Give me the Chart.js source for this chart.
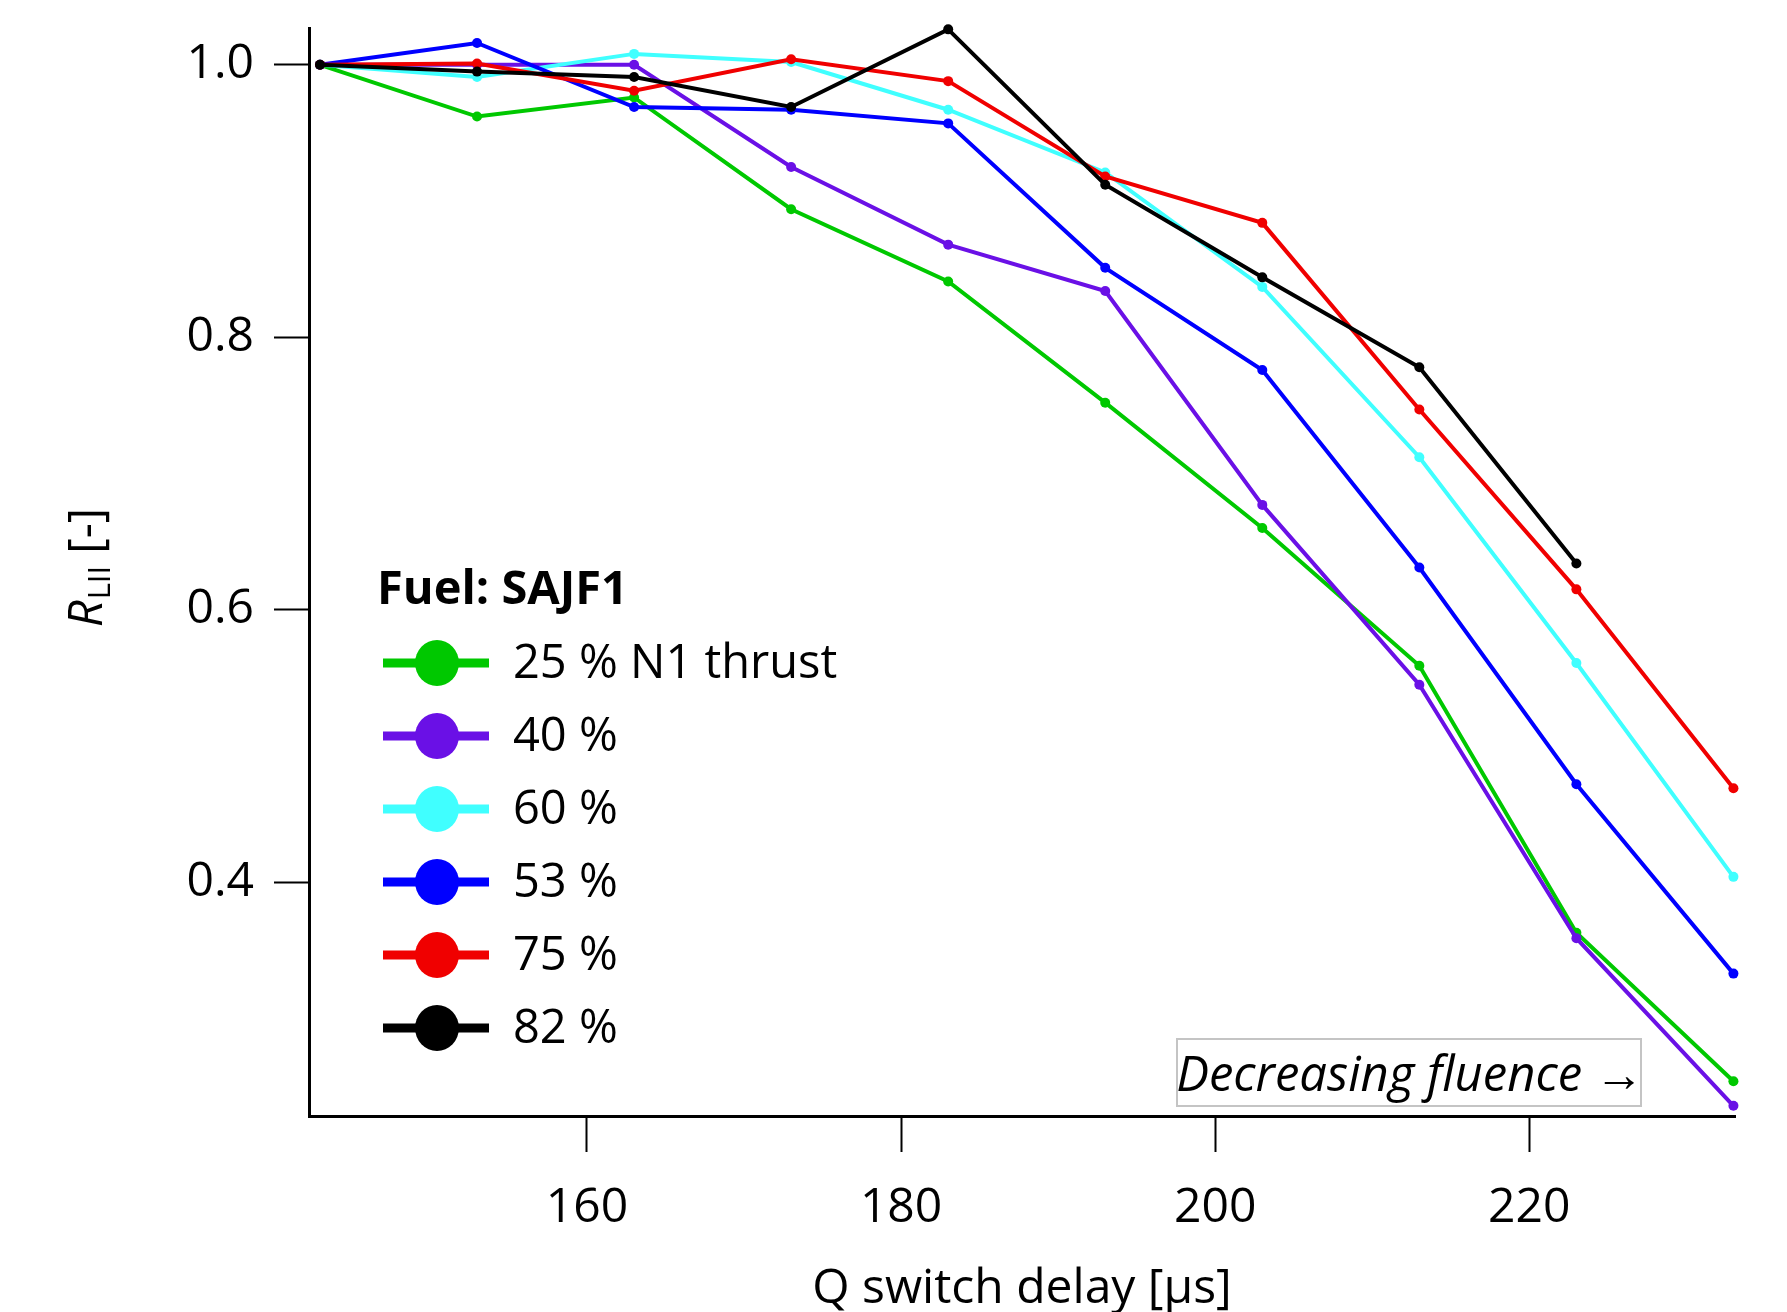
<!DOCTYPE html>
<html>
<head>
<meta charset="utf-8">
<script src="https://cdn.jsdelivr.net/npm/chart.js@4.4.1/dist/chart.umd.min.js"></script>
<style>
  html, body { margin: 0; padding: 0; background: #fff; }
</style>
</head>
<body>
<canvas id="chart" width="1787" height="1312"></canvas>
<script>
// Q switch delay (µs)
const delays = [143, 153, 163, 173, 183, 193, 203, 213, 223, 233];

// R_LII per engine thrust setting
const thrust25 = [1.0, 0.962, 0.976, 0.894, 0.841, 0.752, 0.660, 0.559, 0.363, 0.254];
const thrust40 = [1.0, 1.0, 1.0, 0.925, 0.868, 0.834, 0.677, 0.545, 0.359, 0.236];
const thrust60 = [1.0, 0.991, 1.008, 1.002, 0.967, 0.921, 0.837, 0.712, 0.561, 0.404];
const thrust53 = [1.0, 1.016, 0.969, 0.967, 0.957, 0.851, 0.776, 0.631, 0.472, 0.333];
const thrust75 = [1.0, 1.001, 0.981, 1.004, 0.988, 0.918, 0.884, 0.747, 0.615, 0.469];
const thrust82 = [1.0, 0.995, 0.991, 0.969, 1.026, 0.912, 0.844, 0.778, 0.634, null];

const seriesLabels = ["25 % N1 thrust", "40 %", "60 %", "53 %", "75 %", "82 %"];
const seriesColors = ["#00c800", "#6a10e6", "#40ffff", "#0000ff", "#f00000", "#000000"];
const seriesValues = [thrust25, thrust40, thrust60, thrust53, thrust75, thrust82];
const drawOrder = [5, 4, 3, 2, 1, 0];

const xTicks = [160, 180, 200, 220];
const yTicks = [0.4, 0.6, 0.8, 1.0];

const FONT = "'Open Sans', 'Noto Sans', sans-serif";

function toPoints(values) {
  return delays.map((d, i) => ({ x: d, y: values[i] }));
}

const datasets = seriesValues.map((vals, i) => ({
  label: seriesLabels[i],
  data: toPoints(vals),
  borderColor: seriesColors[i],
  backgroundColor: seriesColors[i],
  borderWidth: 4,
  pointRadius: 5,
  pointBorderWidth: 0,
  pointBackgroundColor: seriesColors[i],
  tension: 0,
  spanGaps: false,
  clip: false,
  order: drawOrder[i],
}));

// legend drawn inside the plot, like the original
const legendBox = {
  id: "legendBox",
  afterDraw(chart) {
    const ctx = chart.ctx;
    ctx.save();
    ctx.fillStyle = "#000";
    ctx.textBaseline = "middle";
    ctx.font = "bold 47px " + FONT;
    ctx.fillText("Fuel: SAJF1", 377, 591);
    ctx.font = "47px " + FONT;
    chart.data.datasets.forEach((ds, i) => {
      const y = 663 + i * 73;
      ctx.strokeStyle = ds.borderColor;
      ctx.lineWidth = 9;
      ctx.beginPath();
      ctx.moveTo(383, y);
      ctx.lineTo(489, y);
      ctx.stroke();
      ctx.fillStyle = ds.borderColor;
      ctx.beginPath();
      ctx.ellipse(437, y, 22, 23, 0, 0, Math.PI * 2);
      ctx.fill();
      ctx.fillStyle = "#000";
      ctx.fillText(ds.label, 513, y + 2);
    });
    ctx.restore();
  },
};

// y axis title with subscript, and the fluence note
const extraText = {
  id: "extraText",
  afterDraw(chart) {
    const ctx = chart.ctx;
    ctx.save();
    ctx.translate(89, 568);
    ctx.rotate(-Math.PI / 2);
    ctx.fillStyle = "#000";
    ctx.textBaseline = "middle";
    const fBig = "47px " + FONT;
    const fIt = "italic 47px " + FONT;
    const fSub = "31px " + FONT;
    ctx.font = fIt;
    const wR = ctx.measureText("R").width;
    ctx.font = fSub;
    const wS = ctx.measureText("LII").width;
    ctx.font = fBig;
    const wB = ctx.measureText(" [-]").width;
    let x = -(wR + wS + wB) / 2;
    ctx.font = fIt;
    ctx.fillText("R", x, 0);
    x += wR + 1;
    ctx.font = fSub;
    ctx.fillText("LII", x, 12);
    x += wS;
    ctx.font = fBig;
    ctx.fillText(" [-]", x, 0);
    ctx.restore();

    ctx.save();
    ctx.strokeStyle = "#c4c4c4";
    ctx.lineWidth = 2;
    ctx.fillStyle = "#fff";
    ctx.fillRect(1177, 1039, 464, 67);
    ctx.strokeRect(1177, 1039, 464, 67);
    ctx.fillStyle = "#000";
    ctx.font = "italic 49px " + FONT;
    ctx.textBaseline = "middle";
    ctx.textAlign = "center";
    ctx.fillText("Decreasing fluence \u2192", 1410, 1077);
    ctx.restore();
  },
};

const ctx = document.getElementById("chart").getContext("2d");
new Chart(ctx, {
  type: "line",
  data: { datasets },
  options: {
    responsive: false,
    animation: false,
    devicePixelRatio: 1,
    layout: { padding: { top: 28, right: 52, left: 0, bottom: 0 } },
    plugins: {
      legend: { display: false },
      tooltip: { enabled: false },
    },
    scales: {
      x: {
        type: "linear",
        min: 142.3,
        max: 233.1,
        bounds: "data",
        afterBuildTicks: (s) => { s.ticks = xTicks.map((v) => ({ value: v })); },
        afterFit: (s) => { s.height = 196; s.paddingLeft = 0; s.paddingRight = 0; },
        border: { color: "#000", width: 3 },
        grid: { drawOnChartArea: false, drawTicks: true, tickLength: 36, tickColor: "#000", tickWidth: 2 },
        ticks: {
          color: "#000",
          padding: 28,
          maxRotation: 0,
          autoSkip: false,
          font: { family: FONT, size: 48 },
        },
        title: {
          display: true,
          text: "Q switch delay [µs]",
          color: "#000",
          font: { family: FONT, size: 48 },
          padding: { top: 0, bottom: -6 },
        },
      },
      y: {
        type: "linear",
        min: 0.2285,
        max: 1.027,
        bounds: "data",
        afterBuildTicks: (s) => { s.ticks = yTicks.map((v) => ({ value: v })); },
        afterFit: (s) => { s.width = 309; s.paddingTop = 0; s.paddingBottom = 0; },
        border: { color: "#000", width: 3 },
        grid: { drawOnChartArea: false, drawTicks: true, tickLength: 35, tickColor: "#000", tickWidth: 2 },
        ticks: {
          color: "#000",
          padding: 20,
          autoSkip: false,
          font: { family: FONT, size: 48 },
          callback: (v) => v.toFixed(1),
        },
      },
    },
  },
  plugins: [legendBox, extraText],
});
</script>
</body>
</html>
